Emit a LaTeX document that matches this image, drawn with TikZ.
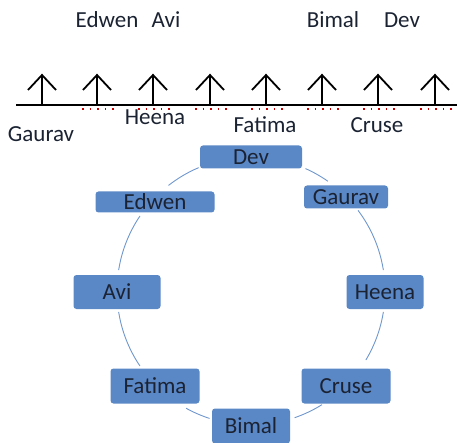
\documentclass[tikz,border=0pt]{standalone}
\usepackage{fontspec}
\setmainfont{Carlito}
\usetikzlibrary{calc}
\definecolor{boxblue}{HTML}{5A87C6}
\definecolor{ringblue}{HTML}{6F97CE}
\definecolor{txt}{HTML}{1B2333}
\tikzset{
  lbl/.style={font=\fontsize{23}{27}\selectfont, text=txt, anchor=base, inner sep=0pt},
  cbox/.style={rounded corners=3pt, fill=boxblue, text=txt, inner sep=0pt,
    font=\fontsize{23}{27}\selectfont},
  ring/.style={ringblue, line width=0.9pt},
  tickarrow/.style={line width=1.8pt, black},
  baseline/.style={line width=2pt, black},
  squiggle/.style={red!80!black, line width=1.3pt, dash pattern=on 1.6pt off 6pt}
}
\begin{document}
\begin{tikzpicture}[x=1pt,y=1pt]
\useasboundingbox (0,0) rectangle (457,442);
% time line
\coordinate (L0) at (16,337);
\coordinate (L1) at (457,337);
\draw[baseline] (L0) -- (L1);
\foreach \x [count=\i] in {42,97,153,210,266,322,378,435}{
  \coordinate (t\i) at (\x,337);
  \coordinate (h\i) at (\x,367);
  \draw[tickarrow] (t\i) -- (h\i);
  \draw[tickarrow, line join=miter] ($(h\i)+(-14,-15)$) -- (h\i) -- ($(h\i)+(14,-15)$);
}
\foreach \x in {97,153,210,266,322,378,435}{
  \draw[squiggle] (\x-15,333) -- (\x+17,333);
}
% labels above/below the line
\node[lbl] (tEdwen) at (107,414) {Edwen};
\node[lbl] (tAvi) at (166,414) {Avi};
\node[lbl] (tBimal) at (333,414) {Bimal};
\node[lbl] (tDev) at (402,414) {Dev};
\node[lbl] (tGaurav) at (41,300) {Gaurav};
\node[lbl] (tHeena) at (155,317) {Heena};
\node[lbl] (tFatima) at (265,309) {Fatima};
\node[lbl] (tCruse) at (377,309) {Cruse};
% ring
\coordinate (c) at (251,151);
\def\R{134}
\foreach \a/\b in {66/55, 37/9, -9/-31, -58/-71, -108/-119, -146/-171, 171/146, 128/113}{
  \draw[ring] ($(c)+(\a:\R)$) arc[start angle=\a, end angle=\b, radius=\R];
}
% boxes
\node[cbox, minimum width=102pt, minimum height=23pt] (Dev) at (251,285) {Dev};
\node[cbox, minimum width=84pt, minimum height=23pt] (Gaurav) at (346,245) {Gaurav};
\node[cbox, minimum width=119pt, minimum height=21pt] (Edwen) at (155,240) {Edwen};
\node[cbox, minimum width=87pt, minimum height=34pt] (Avi) at (117,150) {Avi};
\node[cbox, minimum width=77pt, minimum height=34pt] (Heena) at (385,150) {Heena};
\node[cbox, minimum width=89pt, minimum height=35pt] (Fatima) at (155,56) {Fatima};
\node[cbox, minimum width=89pt, minimum height=35pt] (Cruse) at (346,56) {Cruse};
\node[cbox, minimum width=78pt, minimum height=35pt] (Bimal) at (251,16) {Bimal};
\end{tikzpicture}
\end{document}
